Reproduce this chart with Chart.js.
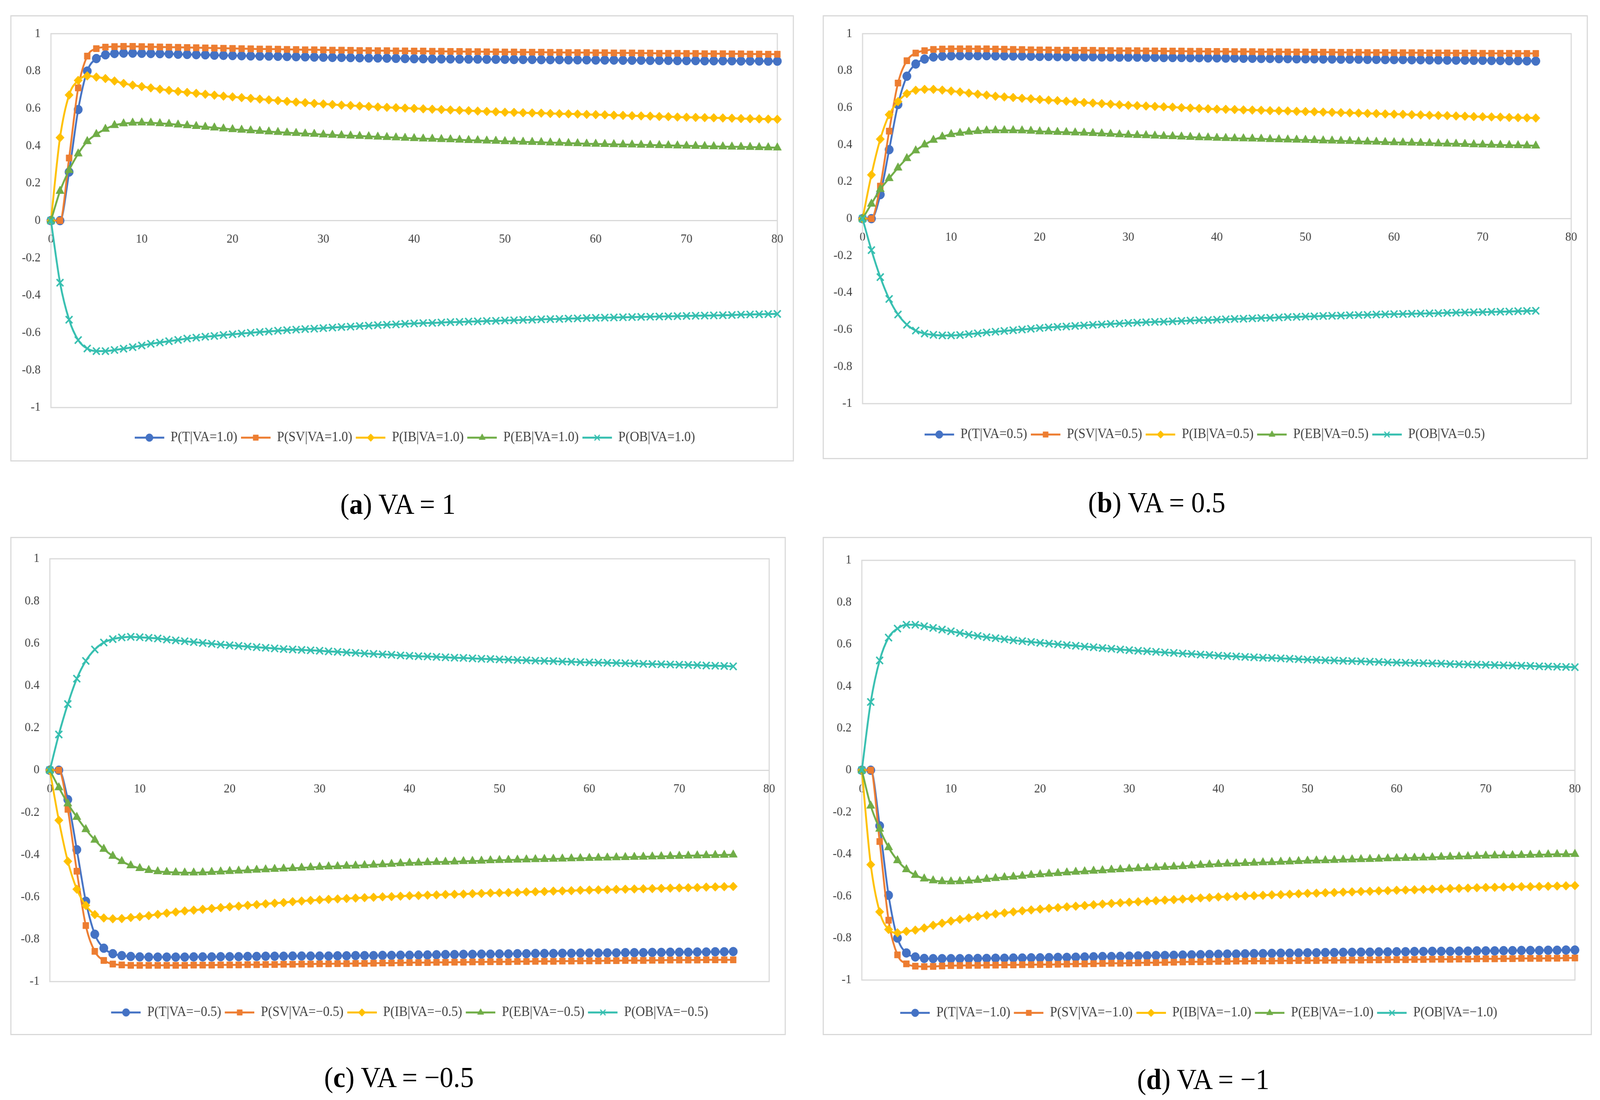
<!DOCTYPE html>
<html>
<head>
<meta charset="utf-8">
<title>P(X|VA) responses</title>
<script src="https://cdn.jsdelivr.net/npm/chart.js@4.4.1/dist/chart.umd.min.js"></script>
<style>
  html, body { margin: 0; padding: 0; background: #fff; overflow: hidden; }
  #viewport { position: relative; overflow: hidden; width: 4335px; height: 2815px; }
  #page { position: absolute; left: 0; top: 0; width: 4335px; height: 2815px; transform-origin: 0 0; background: #fff; }
  .frame { position: absolute; box-sizing: border-box; border: 3px solid #d9d9d9; background: #fff; }
  canvas { position: absolute; }
  .cap {
    position: absolute; width: 1000px; text-align: center;
    font-family: 'Liberation Serif', 'Times New Roman', serif;
    font-size: 74px; line-height: 88px; color: #000; white-space: nowrap;
  }
</style>
</head>
<body>
<div id="viewport">
<div id="page">
  <div class="frame" id="frameA"></div><canvas id="chartA"></canvas>
  <div class="frame" id="frameB"></div><canvas id="chartB"></canvas>
  <div class="frame" id="frameC"></div><canvas id="chartC"></canvas>
  <div class="frame" id="frameD"></div><canvas id="chartD"></canvas>

  <div class="cap" style="left:578px; top:1246px;">(<b>a</b>) VA = 1</div>
  <div class="cap" style="left:2634px; top:1242px;">(<b>b</b>) VA = 0.5</div>
  <div class="cap" style="left:581px; top:2713px;">(<b>c</b>) VA = −0.5</div>
  <div class="cap" style="left:2760px; top:2718px;">(<b>d</b>) VA = −1</div>
</div>
</div>

<script>
// x steps
const steps80 = [
  0, 1, 2, 3, 4, 5, 6, 7, 8, 9,
  10, 11, 12, 13, 14, 15, 16, 17, 18, 19,
  20, 21, 22, 23, 24, 25, 26, 27, 28, 29,
  30, 31, 32, 33, 34, 35, 36, 37, 38, 39,
  40, 41, 42, 43, 44, 45, 46, 47, 48, 49,
  50, 51, 52, 53, 54, 55, 56, 57, 58, 59,
  60, 61, 62, 63, 64, 65, 66, 67, 68, 69,
  70, 71, 72, 73, 74, 75, 76, 77, 78, 79,
  80
];
const steps76 = [
  0, 1, 2, 3, 4, 5, 6, 7, 8, 9,
  10, 11, 12, 13, 14, 15, 16, 17, 18, 19,
  20, 21, 22, 23, 24, 25, 26, 27, 28, 29,
  30, 31, 32, 33, 34, 35, 36, 37, 38, 39,
  40, 41, 42, 43, 44, 45, 46, 47, 48, 49,
  50, 51, 52, 53, 54, 55, 56, 57, 58, 59,
  60, 61, 62, 63, 64, 65, 66, 67, 68, 69,
  70, 71, 72, 73, 74, 75, 76
];

const xTicks = [0, 10, 20, 30, 40, 50, 60, 70, 80];
const yTicks = [-1, -0.8, -0.6, -0.4, -0.2, 0, 0.2, 0.4, 0.6, 0.8, 1];

// (a) VA = 1
const tA = [
  0, 0, 0.260, 0.594, 0.800, 0.867, 0.887, 0.894, 0.896, 0.896,
  0.895, 0.894, 0.893, 0.892, 0.890, 0.889, 0.888, 0.887, 0.885, 0.884,
  0.883, 0.882, 0.881, 0.880, 0.880, 0.879, 0.878, 0.877, 0.876, 0.875,
  0.874, 0.873, 0.873, 0.872, 0.871, 0.870, 0.870, 0.869, 0.868, 0.867,
  0.866, 0.866, 0.865, 0.865, 0.865, 0.864, 0.864, 0.864, 0.863, 0.863,
  0.863, 0.862, 0.862, 0.862, 0.861, 0.861, 0.861, 0.860, 0.860, 0.860,
  0.859, 0.859, 0.859, 0.858, 0.858, 0.858, 0.857, 0.857, 0.857, 0.856,
  0.856, 0.856, 0.855, 0.855, 0.855, 0.855, 0.854, 0.854, 0.854, 0.853,
  0.853
];
const svA = [
  0, 0, 0.335, 0.710, 0.880, 0.920, 0.928, 0.931, 0.932, 0.932,
  0.931, 0.930, 0.929, 0.928, 0.927, 0.926, 0.925, 0.924, 0.923, 0.922,
  0.921, 0.920, 0.919, 0.918, 0.918, 0.917, 0.916, 0.915, 0.914, 0.914,
  0.913, 0.912, 0.912, 0.911, 0.910, 0.910, 0.909, 0.909, 0.908, 0.908,
  0.907, 0.907, 0.906, 0.906, 0.905, 0.905, 0.904, 0.904, 0.903, 0.903,
  0.902, 0.902, 0.901, 0.901, 0.901, 0.900, 0.900, 0.899, 0.899, 0.899,
  0.898, 0.898, 0.897, 0.897, 0.897, 0.896, 0.896, 0.895, 0.895, 0.895,
  0.894, 0.894, 0.893, 0.893, 0.893, 0.892, 0.892, 0.891, 0.891, 0.890,
  0.890
];
const ibA = [
  0, 0.444, 0.672, 0.750, 0.774, 0.768, 0.760, 0.747, 0.734, 0.725,
  0.717, 0.710, 0.703, 0.697, 0.691, 0.686, 0.681, 0.676, 0.671, 0.666,
  0.662, 0.658, 0.654, 0.650, 0.646, 0.642, 0.638, 0.634, 0.631, 0.627,
  0.624, 0.621, 0.618, 0.616, 0.613, 0.611, 0.608, 0.606, 0.604, 0.602,
  0.600, 0.598, 0.596, 0.594, 0.592, 0.590, 0.588, 0.586, 0.584, 0.582,
  0.580, 0.579, 0.577, 0.576, 0.575, 0.573, 0.572, 0.571, 0.570, 0.568,
  0.567, 0.566, 0.564, 0.563, 0.561, 0.560, 0.559, 0.557, 0.556, 0.554,
  0.553, 0.552, 0.551, 0.550, 0.549, 0.548, 0.546, 0.545, 0.544, 0.543,
  0.542
];
const ebA = [
  0, 0.158, 0.270, 0.358, 0.424, 0.462, 0.490, 0.510, 0.519, 0.523,
  0.524, 0.523, 0.520, 0.517, 0.513, 0.509, 0.505, 0.501, 0.497, 0.492,
  0.488, 0.485, 0.482, 0.479, 0.476, 0.473, 0.470, 0.468, 0.465, 0.463,
  0.460, 0.458, 0.456, 0.454, 0.452, 0.450, 0.448, 0.446, 0.444, 0.442,
  0.440, 0.438, 0.437, 0.435, 0.434, 0.432, 0.430, 0.429, 0.427, 0.426,
  0.424, 0.423, 0.421, 0.420, 0.419, 0.417, 0.416, 0.414, 0.413, 0.411,
  0.410, 0.409, 0.408, 0.407, 0.406, 0.405, 0.404, 0.403, 0.402, 0.401,
  0.400, 0.399, 0.398, 0.397, 0.396, 0.395, 0.394, 0.393, 0.392, 0.391,
  0.390
];
const obA = [
  0, -0.332, -0.530, -0.639, -0.684, -0.698, -0.698, -0.692, -0.685, -0.677,
  -0.668, -0.659, -0.652, -0.645, -0.638, -0.631, -0.626, -0.621, -0.617, -0.612,
  -0.608, -0.604, -0.600, -0.596, -0.593, -0.589, -0.586, -0.583, -0.580, -0.578,
  -0.575, -0.572, -0.569, -0.567, -0.564, -0.562, -0.559, -0.557, -0.555, -0.552,
  -0.550, -0.548, -0.547, -0.545, -0.543, -0.542, -0.540, -0.539, -0.537, -0.536,
  -0.534, -0.533, -0.531, -0.530, -0.528, -0.527, -0.526, -0.524, -0.523, -0.521,
  -0.520, -0.519, -0.518, -0.517, -0.516, -0.515, -0.514, -0.513, -0.512, -0.511,
  -0.510, -0.509, -0.508, -0.507, -0.506, -0.505, -0.503, -0.502, -0.501, -0.500,
  -0.499
];

// (b) VA = 0.5
const tB = [
  0, 0, 0.130, 0.373, 0.617, 0.770, 0.836, 0.863, 0.874, 0.878,
  0.880, 0.881, 0.881, 0.881, 0.881, 0.880, 0.880, 0.879, 0.879, 0.878,
  0.877, 0.877, 0.876, 0.876, 0.875, 0.875, 0.875, 0.874, 0.874, 0.873,
  0.873, 0.873, 0.872, 0.872, 0.871, 0.871, 0.871, 0.870, 0.870, 0.869,
  0.869, 0.868, 0.868, 0.867, 0.867, 0.866, 0.866, 0.865, 0.865, 0.864,
  0.864, 0.864, 0.863, 0.863, 0.862, 0.862, 0.862, 0.861, 0.861, 0.860,
  0.860, 0.860, 0.859, 0.859, 0.858, 0.858, 0.857, 0.857, 0.857, 0.856,
  0.856, 0.855, 0.855, 0.854, 0.854, 0.853, 0.852
];
const svB = [
  0, 0, 0.176, 0.473, 0.733, 0.854, 0.895, 0.908, 0.915, 0.917,
  0.918, 0.918, 0.918, 0.918, 0.918, 0.917, 0.916, 0.915, 0.914, 0.913,
  0.912, 0.912, 0.911, 0.911, 0.910, 0.910, 0.910, 0.909, 0.909, 0.908,
  0.908, 0.908, 0.907, 0.907, 0.906, 0.906, 0.906, 0.905, 0.905, 0.904,
  0.904, 0.904, 0.903, 0.903, 0.903, 0.902, 0.902, 0.902, 0.901, 0.901,
  0.901, 0.900, 0.900, 0.900, 0.899, 0.899, 0.899, 0.898, 0.898, 0.898,
  0.897, 0.897, 0.897, 0.897, 0.896, 0.896, 0.896, 0.895, 0.895, 0.895,
  0.894, 0.894, 0.894, 0.894, 0.893, 0.893, 0.893
];
const ibB = [
  0, 0.237, 0.430, 0.562, 0.633, 0.676, 0.694, 0.699, 0.699, 0.695,
  0.690, 0.685, 0.679, 0.673, 0.668, 0.662, 0.658, 0.655, 0.651, 0.648,
  0.644, 0.641, 0.638, 0.635, 0.632, 0.628, 0.625, 0.622, 0.619, 0.616,
  0.613, 0.611, 0.609, 0.607, 0.605, 0.603, 0.600, 0.598, 0.596, 0.594,
  0.592, 0.591, 0.590, 0.588, 0.587, 0.586, 0.584, 0.583, 0.582, 0.580,
  0.579, 0.578, 0.576, 0.575, 0.573, 0.572, 0.571, 0.569, 0.568, 0.566,
  0.565, 0.564, 0.562, 0.561, 0.559, 0.558, 0.557, 0.555, 0.554, 0.552,
  0.551, 0.550, 0.549, 0.547, 0.546, 0.545, 0.544
];
const ebB = [
  0, 0.080, 0.159, 0.218, 0.275, 0.326, 0.368, 0.400, 0.425, 0.443,
  0.456, 0.463, 0.469, 0.473, 0.476, 0.477, 0.477, 0.477, 0.476, 0.474,
  0.471, 0.470, 0.468, 0.467, 0.465, 0.464, 0.462, 0.460, 0.458, 0.455,
  0.453, 0.451, 0.450, 0.448, 0.446, 0.445, 0.443, 0.441, 0.439, 0.438,
  0.436, 0.435, 0.434, 0.433, 0.432, 0.431, 0.429, 0.428, 0.427, 0.426,
  0.425, 0.424, 0.422, 0.421, 0.420, 0.419, 0.417, 0.416, 0.415, 0.413,
  0.412, 0.411, 0.410, 0.409, 0.408, 0.406, 0.405, 0.404, 0.403, 0.401,
  0.400, 0.399, 0.398, 0.397, 0.396, 0.395, 0.394
];
const obB = [
  0, -0.170, -0.316, -0.434, -0.518, -0.573, -0.605, -0.621, -0.628, -0.631,
  -0.631, -0.629, -0.624, -0.620, -0.615, -0.611, -0.607, -0.603, -0.599, -0.595,
  -0.591, -0.588, -0.585, -0.583, -0.580, -0.577, -0.574, -0.572, -0.569, -0.567,
  -0.564, -0.562, -0.560, -0.558, -0.557, -0.555, -0.553, -0.551, -0.549, -0.548,
  -0.546, -0.544, -0.542, -0.541, -0.539, -0.537, -0.536, -0.534, -0.532, -0.531,
  -0.529, -0.528, -0.526, -0.525, -0.524, -0.522, -0.521, -0.520, -0.518, -0.517,
  -0.516, -0.515, -0.514, -0.513, -0.512, -0.511, -0.509, -0.508, -0.507, -0.506,
  -0.505, -0.504, -0.503, -0.502, -0.500, -0.499, -0.498
];

// (c) VA = -0.5
const tC = [
  0, 0, -0.139, -0.376, -0.620, -0.776, -0.842, -0.868, -0.877, -0.881,
  -0.883, -0.884, -0.884, -0.884, -0.884, -0.884, -0.883, -0.883, -0.883, -0.882,
  -0.882, -0.882, -0.881, -0.881, -0.880, -0.880, -0.880, -0.879, -0.879, -0.879,
  -0.879, -0.879, -0.878, -0.878, -0.877, -0.877, -0.877, -0.876, -0.876, -0.875,
  -0.875, -0.874, -0.874, -0.873, -0.872, -0.872, -0.871, -0.871, -0.870, -0.870,
  -0.869, -0.869, -0.868, -0.868, -0.867, -0.867, -0.867, -0.866, -0.866, -0.865,
  -0.865, -0.865, -0.864, -0.864, -0.863, -0.863, -0.863, -0.862, -0.862, -0.861,
  -0.861, -0.861, -0.860, -0.860, -0.859, -0.859, -0.858
];
const svC = [
  0, 0, -0.185, -0.478, -0.735, -0.857, -0.900, -0.917, -0.921, -0.923,
  -0.923, -0.923, -0.923, -0.923, -0.923, -0.923, -0.922, -0.922, -0.922, -0.921,
  -0.921, -0.921, -0.920, -0.920, -0.919, -0.919, -0.918, -0.918, -0.917, -0.917,
  -0.916, -0.916, -0.915, -0.915, -0.914, -0.914, -0.913, -0.912, -0.912, -0.911,
  -0.910, -0.910, -0.910, -0.909, -0.909, -0.908, -0.908, -0.907, -0.907, -0.906,
  -0.906, -0.906, -0.905, -0.905, -0.904, -0.904, -0.904, -0.903, -0.903, -0.902,
  -0.902, -0.902, -0.901, -0.901, -0.900, -0.900, -0.900, -0.899, -0.899, -0.898,
  -0.898, -0.898, -0.898, -0.897, -0.897, -0.897, -0.897
];
const ibC = [
  0, -0.237, -0.431, -0.563, -0.640, -0.683, -0.699, -0.703, -0.702, -0.697,
  -0.693, -0.688, -0.682, -0.676, -0.671, -0.666, -0.662, -0.658, -0.654, -0.650,
  -0.646, -0.643, -0.639, -0.636, -0.632, -0.629, -0.626, -0.622, -0.619, -0.616,
  -0.613, -0.611, -0.609, -0.607, -0.605, -0.603, -0.601, -0.599, -0.598, -0.596,
  -0.594, -0.593, -0.591, -0.590, -0.588, -0.587, -0.586, -0.584, -0.583, -0.581,
  -0.580, -0.579, -0.578, -0.576, -0.575, -0.574, -0.572, -0.571, -0.570, -0.568,
  -0.567, -0.566, -0.565, -0.564, -0.563, -0.562, -0.561, -0.560, -0.559, -0.558,
  -0.557, -0.556, -0.555, -0.553, -0.552, -0.551, -0.550
];
const ebC = [
  0, -0.082, -0.158, -0.222, -0.280, -0.330, -0.373, -0.406, -0.431, -0.451,
  -0.464, -0.473, -0.479, -0.482, -0.484, -0.485, -0.485, -0.484, -0.482, -0.480,
  -0.478, -0.476, -0.474, -0.472, -0.470, -0.468, -0.466, -0.464, -0.462, -0.460,
  -0.458, -0.456, -0.455, -0.453, -0.452, -0.450, -0.448, -0.446, -0.444, -0.441,
  -0.439, -0.438, -0.436, -0.435, -0.434, -0.433, -0.431, -0.430, -0.429, -0.427,
  -0.426, -0.425, -0.424, -0.423, -0.422, -0.421, -0.420, -0.419, -0.418, -0.417,
  -0.416, -0.415, -0.414, -0.413, -0.412, -0.411, -0.410, -0.409, -0.408, -0.407,
  -0.406, -0.405, -0.404, -0.403, -0.402, -0.401, -0.400
];
const obC = [
  0, 0.169, 0.313, 0.433, 0.517, 0.571, 0.604, 0.620, 0.628, 0.631,
  0.629, 0.626, 0.623, 0.618, 0.614, 0.610, 0.606, 0.602, 0.598, 0.594,
  0.591, 0.588, 0.585, 0.582, 0.579, 0.576, 0.573, 0.571, 0.569, 0.567,
  0.565, 0.562, 0.560, 0.557, 0.555, 0.552, 0.550, 0.548, 0.546, 0.543,
  0.541, 0.539, 0.538, 0.536, 0.534, 0.532, 0.531, 0.529, 0.527, 0.526,
  0.524, 0.523, 0.521, 0.520, 0.518, 0.517, 0.516, 0.514, 0.513, 0.511,
  0.510, 0.509, 0.508, 0.507, 0.506, 0.505, 0.503, 0.502, 0.501, 0.500,
  0.499, 0.498, 0.497, 0.495, 0.494, 0.493, 0.491
];

// (d) VA = -1
const tD = [
  0, 0, -0.265, -0.596, -0.800, -0.871, -0.890, -0.897, -0.898, -0.898,
  -0.898, -0.898, -0.898, -0.897, -0.897, -0.896, -0.896, -0.895, -0.895, -0.894,
  -0.894, -0.893, -0.892, -0.892, -0.891, -0.890, -0.889, -0.888, -0.888, -0.887,
  -0.886, -0.885, -0.884, -0.883, -0.883, -0.882, -0.881, -0.880, -0.879, -0.878,
  -0.877, -0.876, -0.876, -0.875, -0.874, -0.874, -0.873, -0.872, -0.872, -0.871,
  -0.870, -0.870, -0.869, -0.869, -0.868, -0.868, -0.867, -0.867, -0.866, -0.866,
  -0.865, -0.865, -0.864, -0.864, -0.863, -0.863, -0.863, -0.862, -0.862, -0.861,
  -0.861, -0.861, -0.860, -0.860, -0.859, -0.859, -0.859, -0.858, -0.858, -0.857,
  -0.857
];
const svD = [
  0, 0, -0.340, -0.715, -0.880, -0.923, -0.934, -0.936, -0.935, -0.933,
  -0.931, -0.931, -0.930, -0.930, -0.929, -0.929, -0.928, -0.928, -0.927, -0.927,
  -0.926, -0.926, -0.925, -0.924, -0.923, -0.923, -0.922, -0.921, -0.920, -0.920,
  -0.919, -0.918, -0.917, -0.917, -0.916, -0.915, -0.914, -0.913, -0.913, -0.912,
  -0.911, -0.911, -0.910, -0.910, -0.909, -0.909, -0.909, -0.908, -0.908, -0.907,
  -0.907, -0.907, -0.906, -0.906, -0.905, -0.905, -0.905, -0.904, -0.904, -0.903,
  -0.903, -0.903, -0.902, -0.902, -0.901, -0.901, -0.901, -0.900, -0.900, -0.899,
  -0.899, -0.899, -0.898, -0.898, -0.897, -0.897, -0.897, -0.896, -0.896, -0.895,
  -0.895
];
const ibD = [
  0, -0.450, -0.675, -0.759, -0.775, -0.768, -0.762, -0.752, -0.739, -0.729,
  -0.719, -0.711, -0.704, -0.697, -0.691, -0.685, -0.680, -0.675, -0.670, -0.666,
  -0.662, -0.658, -0.655, -0.651, -0.648, -0.645, -0.641, -0.638, -0.635, -0.632,
  -0.629, -0.627, -0.624, -0.622, -0.619, -0.617, -0.614, -0.612, -0.609, -0.607,
  -0.604, -0.603, -0.601, -0.599, -0.598, -0.596, -0.594, -0.593, -0.591, -0.589,
  -0.587, -0.586, -0.584, -0.583, -0.581, -0.580, -0.578, -0.577, -0.575, -0.574,
  -0.572, -0.571, -0.570, -0.568, -0.567, -0.566, -0.564, -0.563, -0.562, -0.560,
  -0.559, -0.558, -0.557, -0.556, -0.555, -0.555, -0.554, -0.553, -0.552, -0.551,
  -0.550
];
const ebD = [
  0, -0.170, -0.280, -0.368, -0.430, -0.473, -0.500, -0.517, -0.526, -0.530,
  -0.531, -0.530, -0.527, -0.524, -0.519, -0.515, -0.511, -0.508, -0.504, -0.500,
  -0.497, -0.494, -0.491, -0.488, -0.485, -0.483, -0.480, -0.478, -0.475, -0.473,
  -0.470, -0.468, -0.466, -0.464, -0.462, -0.460, -0.458, -0.455, -0.452, -0.450,
  -0.448, -0.446, -0.445, -0.443, -0.442, -0.440, -0.439, -0.437, -0.436, -0.434,
  -0.432, -0.431, -0.430, -0.429, -0.427, -0.426, -0.425, -0.424, -0.423, -0.421,
  -0.420, -0.419, -0.418, -0.417, -0.416, -0.414, -0.413, -0.412, -0.411, -0.409,
  -0.408, -0.407, -0.406, -0.406, -0.405, -0.404, -0.403, -0.402, -0.401, -0.401,
  -0.400
];
const obD = [
  0, 0.325, 0.523, 0.632, 0.675, 0.693, 0.693, 0.686, 0.678, 0.670,
  0.662, 0.654, 0.646, 0.640, 0.634, 0.629, 0.624, 0.619, 0.615, 0.611,
  0.607, 0.603, 0.600, 0.596, 0.593, 0.589, 0.586, 0.582, 0.579, 0.575,
  0.572, 0.569, 0.567, 0.564, 0.561, 0.559, 0.556, 0.554, 0.551, 0.549,
  0.546, 0.544, 0.542, 0.540, 0.538, 0.536, 0.535, 0.533, 0.531, 0.529,
  0.527, 0.526, 0.524, 0.523, 0.521, 0.520, 0.519, 0.517, 0.516, 0.514,
  0.513, 0.512, 0.511, 0.510, 0.509, 0.508, 0.506, 0.505, 0.504, 0.503,
  0.502, 0.501, 0.500, 0.499, 0.498, 0.497, 0.495, 0.494, 0.493, 0.492,
  0.491
];

const seriesNames = ['T', 'SV', 'IB', 'EB', 'OB'];
const seriesColors = ['#4472C4', '#ED7D31', '#FFC000', '#70AD47', '#36BFB0'];
const seriesMarkers = ['circle', 'rect', 'rectRot', 'triangle', 'crossRot'];

// page layout: box = frame [x, y, w, h], plot = chart area [left, top, right, bottom], legend = text centre [x, y]
const panels = [
  { id: 'A', va: '1.0', steps: steps80, series: [tA, svA, ibA, ebA, obA],
    box: [28, 39, 2123, 1142], plot: [138, 69, 2114, 1043], legend: [1124, 1120] },
  { id: 'B', va: '0.5', steps: steps76, series: [tB, svB, ibB, ebB, obB],
    box: [2229, 39, 2073, 1136], plot: [2337, 83, 4258, 1033], legend: [3264, 1112] },
  { id: 'C', va: '−0.5', steps: steps76, series: [tC, svC, ibC, ebC, obC],
    box: [28, 1374, 2101, 1275], plot: [135, 1430, 2086, 2512], legend: [1110, 2591] },
  { id: 'D', va: '−1.0', steps: steps80, series: [tD, svD, ibD, ebD, obD],
    box: [2229, 1374, 2084, 1275], plot: [2335, 1434, 4267, 2508], legend: [3248, 2592] }
];

const FONT = "'Liberation Serif', 'Times New Roman', serif";
const TEXT = '#404040';
const LEGEND_SIZE = 35;
const LEGEND_PAD = 10;

Chart.defaults.font.family = FONT;
Chart.defaults.color = TEXT;

// stretch the 4335 x 2815 page over the viewport we actually get
const scaleX = window.innerWidth / 4335;
const scaleY = window.innerHeight / 2815;
document.getElementById('page').style.transform = `scale(${scaleX}, ${scaleY})`;
const vp = document.getElementById('viewport');
vp.style.width = window.innerWidth + 'px';
vp.style.height = window.innerHeight + 'px';
const pixelRatio = (window.devicePixelRatio || 1) * Math.max(scaleX, scaleY);

// Excel-like legend key: short line with the marker in the middle
function legendKey(color, marker) {
  const c = document.createElement('canvas');
  c.width = 80;
  c.height = 30;
  const g = c.getContext('2d');
  g.strokeStyle = color;
  g.fillStyle = color;
  g.lineWidth = 5;
  g.beginPath();
  g.moveTo(0, 15);
  g.lineTo(80, 15);
  g.stroke();
  g.lineWidth = marker === 'crossRot' ? 3 : 1;
  Chart.helpers.drawPoint(g, { pointStyle: marker, radius: 10, borderWidth: g.lineWidth, rotation: 0 }, 40, 15);
  return c;
}

// light grey border around the plot area
const plotFrame = {
  id: 'plotFrame',
  beforeDatasetsDraw(chart) {
    const { ctx, chartArea: a } = chart;
    ctx.save();
    ctx.strokeStyle = '#d9d9d9';
    ctx.lineWidth = 3;
    ctx.strokeRect(a.left, a.top, a.right - a.left, a.bottom - a.top);
    ctx.restore();
  }
};

// move the legend row so it is centred where the reference has it
const legendShift = {
  id: 'legendShift',
  afterLayout(chart, args, opts) {
    const lg = chart.legend;
    if (!lg) return;
    const dx = opts.centerX - (lg.left + lg.right) / 2;
    lg.left += dx;
    lg.right += dx;
  }
};

panels.forEach(p => {
  const [bx, by, bw, bh] = p.box;
  const [pl, pt, pr, pb] = p.plot;
  const [lx, ly] = p.legend;

  const frame = document.getElementById('frame' + p.id);
  const canvas = document.getElementById('chart' + p.id);
  [frame, canvas].forEach(el => {
    el.style.left = bx + 'px';
    el.style.top = by + 'px';
    el.style.width = bw + 'px';
    el.style.height = bh + 'px';
  });
  canvas.width = bw;
  canvas.height = bh;

  const areaLeft = pl - bx;
  const padTop = pt - by;
  const padRight = bx + bw - pr;
  const fromBottomChart = by + bh - pb;
  const fromBottomLegend = by + bh - ly;
  const padBottom = fromBottomLegend - LEGEND_SIZE / 2 - 10;
  const titleGap = Math.max(0, fromBottomChart - padBottom - (LEGEND_SIZE + LEGEND_PAD + 10) - 10);

  const datasets = p.series.map((vals, k) => ({
    label: `P(${seriesNames[k]}|VA=${p.va})`,
    data: vals.map((v, i) => ({ x: p.steps[i], y: v })),
    borderColor: seriesColors[k],
    backgroundColor: seriesColors[k],
    borderWidth: 5,
    pointStyle: seriesMarkers[k],
    pointRadius: seriesMarkers[k] === 'triangle' || seriesMarkers[k] === 'crossRot' ? 13 : 11.5,
    pointBorderWidth: seriesMarkers[k] === 'crossRot' ? 4 : 1,
    pointBorderColor: seriesColors[k],
    pointBackgroundColor: seriesColors[k],
    cubicInterpolationMode: 'monotone',
    tension: 0.4,
    clip: false,
    order: 5 - k
  }));

  new Chart(canvas, {
    type: 'line',
    data: { datasets },
    options: {
      responsive: false,
      animation: false,
      devicePixelRatio: pixelRatio,
      events: [],
      layout: { padding: { left: 0, top: padTop, right: padRight, bottom: padBottom } },
      plugins: {
        tooltip: { enabled: false },
        legendShift: { centerX: lx - bx },
        legend: {
          position: 'bottom',
          title: { display: true, text: ' ', font: { size: 10, lineHeight: 1 }, padding: { top: titleGap, bottom: 0 } },
          labels: {
            usePointStyle: true,
            pointStyleWidth: 80,
            padding: LEGEND_PAD,
            color: TEXT,
            font: { size: LEGEND_SIZE, family: FONT },
            generateLabels: chart => chart.data.datasets.map((ds, i) => ({
              text: ds.label,
              fillStyle: ds.backgroundColor,
              strokeStyle: ds.borderColor,
              lineWidth: 0,
              pointStyle: legendKey(ds.borderColor, ds.pointStyle),
              fontColor: TEXT,
              hidden: false,
              datasetIndex: i
            }))
          }
        }
      },
      scales: {
        x: {
          type: 'linear',
          position: { y: 0 },
          min: xTicks[0],
          max: xTicks[xTicks.length - 1],
          afterBuildTicks: s => { s.ticks = xTicks.map(v => ({ value: v })); },
          ticks: { padding: 29, color: TEXT, font: { size: 32 }, maxRotation: 0, autoSkip: false },
          grid: { display: false, drawTicks: false },
          border: { display: true, color: '#d9d9d9', width: 3 }
        },
        y: {
          type: 'linear',
          min: yTicks[0],
          max: yTicks[yTicks.length - 1],
          afterBuildTicks: s => { s.ticks = yTicks.map(v => ({ value: v })); },
          afterFit: s => { s.width = areaLeft; },
          ticks: { padding: 28, color: TEXT, font: { size: 32 }, autoSkip: false,
                   callback: v => String(Math.round(v * 10) / 10) },
          grid: { display: false, drawTicks: false },
          border: { display: false }
        }
      }
    },
    plugins: [plotFrame, legendShift]
  });
});
</script>
</body>
</html>
